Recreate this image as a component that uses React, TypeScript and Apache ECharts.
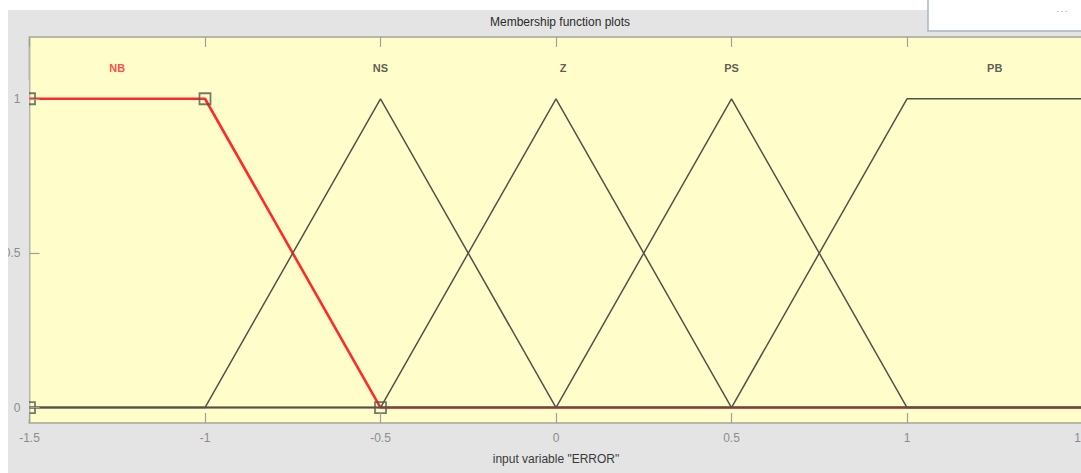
import React, { useEffect, useRef } from "react";
import * as echarts from "echarts";

const xTicks = [-1.5, -1, -0.5, 0, 0.5, 1, 1.5];
const yTicks = [0, 0.5, 1];

const mfNames = ["NB", "NS", "Z", "PS", "PB"];
const mfLabelX = [-1.25, -0.5, 0.02, 0.5, 1.25];
const mfLabelY = [1.1, 1.1, 1.1, 1.1, 1.1];

// selected MF (NB) drawn in red
const nbX = [-1.5, -1, -0.5, 1.5];
const nbY = [1, 1, 0, 0];
const nbMarkerX = [-1.5, -1.5, -1, -0.5];
const nbMarkerY = [0, 1, 1, 0];

const nsX = [-1.5, -1, -0.5, 0, 1.5];
const nsY = [0, 0, 1, 0, 0];
const zX = [-1.5, -0.5, 0, 0.5, 1.5];
const zY = [0, 0, 1, 0, 0];
const psX = [-1.5, 0, 0.5, 1, 1.5];
const psY = [0, 0, 1, 0, 0];
const pbX = [-1.5, 0.5, 1, 1.5];
const pbY = [0, 0, 1, 1];

const zip = (xs: number[], ys: number[]) => xs.map((x, i) => [x, ys[i]]);

export default function App() {
  const ref = useRef<HTMLDivElement>(null);
  useEffect(() => {
    if (!ref.current) return;
    const chart = echarts.init(ref.current, undefined, { renderer: "svg" });
    const dark = "#525248";
    const darkLine = (name: string, xs: number[], ys: number[]) => ({
      type: "line",
      name,
      data: zip(xs, ys),
      symbol: "none",
      lineStyle: { color: dark, width: 1.5 },
      z: 3,
      silent: true,
    });
    const axisFont = { fontFamily: "Liberation Sans, Arial", fontSize: 12, color: "#8c8c8c" };
    const tickStyle = { color: "#a0a096", width: 1.2 };
    chart.setOption({
      animation: false,
      backgroundColor: "#ffffff",
      title: {
        text: "Membership function plots",
        left: 555,
        top: 11,
        textAlign: "center",
        textStyle: { fontFamily: "Liberation Sans, Arial", fontSize: 12, fontWeight: "normal", color: "#2a2a2a" },
      },
      graphic: [
        { type: "rect", z: -10, shape: { x: 8, y: 10, width: 1100, height: 470 }, style: { fill: "#e4e4e4" } },
        { type: "rect", z: 5, shape: { x: 8, y: 80, width: 21, height: 340 }, style: { fill: "#e4e4e4" } },
        { type: "rect", z: 20, shape: { x: 0, y: 0, width: 8, height: 473 }, style: { fill: "#ffffff" } },
        { type: "rect", z: 20, shape: { x: 928, y: -2, width: 160, height: 33 }, style: { fill: "#ffffff", stroke: "#a9b4c4", lineWidth: 1.5 } },
        { type: "text", z: 21, x: 1062, y: 10, style: { text: "- - -", fill: "#999", fontSize: 7, fontFamily: "Liberation Sans", align: "center", verticalAlign: "middle" } },
      ],
      grid: {
        left: 29.5,
        top: 37,
        width: 1053,
        height: 386,
        show: true,
        backgroundColor: "#fffecb",
        borderColor: "#b7b7aa",
        borderWidth: 2,
        outerBoundsMode: "none",
        containLabel: false,
      },
      xAxis: [
        {
          type: "value",
          min: -1.5,
          max: 1.5,
          interval: 0.5,
          position: "bottom",
          splitLine: { show: false },
          axisLine: { show: false, onZero: false },
          axisTick: { inside: true, length: 10, lineStyle: tickStyle },
          axisLabel: {
            ...axisFont,
            margin: 9,
            formatter: (v: number) => (xTicks.includes(v) ? String(v) : ""),
          },
          name: 'input variable "ERROR"',
          nameLocation: "middle",
          nameGap: 30,
          nameTextStyle: { fontFamily: "Liberation Sans, Arial", fontSize: 12, color: "#3a3a3a" },
          z: 10,
        },
        {
          type: "value",
          min: -1.5,
          max: 1.5,
          interval: 0.5,
          position: "top",
          splitLine: { show: false },
          axisLine: { show: false, onZero: false },
          axisTick: { inside: true, length: 10, lineStyle: tickStyle },
          axisLabel: { show: false },
        },
      ],
      yAxis: {
        type: "value",
        min: -0.05,
        max: 1.2,
        position: "left",
        splitLine: { show: false },
        axisLine: { show: false, onZero: false },
        axisTick: { inside: true, length: 10, customValues: yTicks, lineStyle: tickStyle },
        axisLabel: { ...axisFont, margin: 9, customValues: yTicks, formatter: (v: number) => String(v) },
        z: 10,
      },
      series: [
        {
          type: "line",
          name: "NB",
          data: zip(nbX, nbY),
          symbol: "none",
          lineStyle: { color: "#ff2b2b", width: 2.6 },
          z: 2,
          silent: true,
        },
        darkLine("NS", nsX, nsY),
        darkLine("Z", zX, zY),
        darkLine("PS", psX, psY),
        darkLine("PB", pbX, pbY),
        {
          type: "scatter",
          name: "NB params",
          data: zip(nbMarkerX, nbMarkerY),
          symbol: "rect",
          symbolSize: 11,
          itemStyle: { color: "rgba(255,255,255,0)", borderColor: "#55574c", borderWidth: 1.8 },
          z: 4,
          silent: true,
        },
        {
          type: "scatter",
          name: "labels",
          data: mfLabelX.map((x, i) => ({
            value: [x, mfLabelY[i]],
            label: { color: i === 0 ? "#ff2020" : "#333333" },
          })),
          symbolSize: 0,
          silent: true,
          label: {
            show: true,
            position: "inside",
            fontFamily: "Liberation Sans, Arial",
            fontSize: 11,
            fontWeight: "bold",
            formatter: (p: any) => mfNames[p.dataIndex],
          },
          z: 4,
        },
      ],
    });
    return () => chart.dispose();
  }, []);
  return <div ref={ref} style={{ position: "fixed", left: 0, top: 0, width: 1081, height: 473 }} />;
}
